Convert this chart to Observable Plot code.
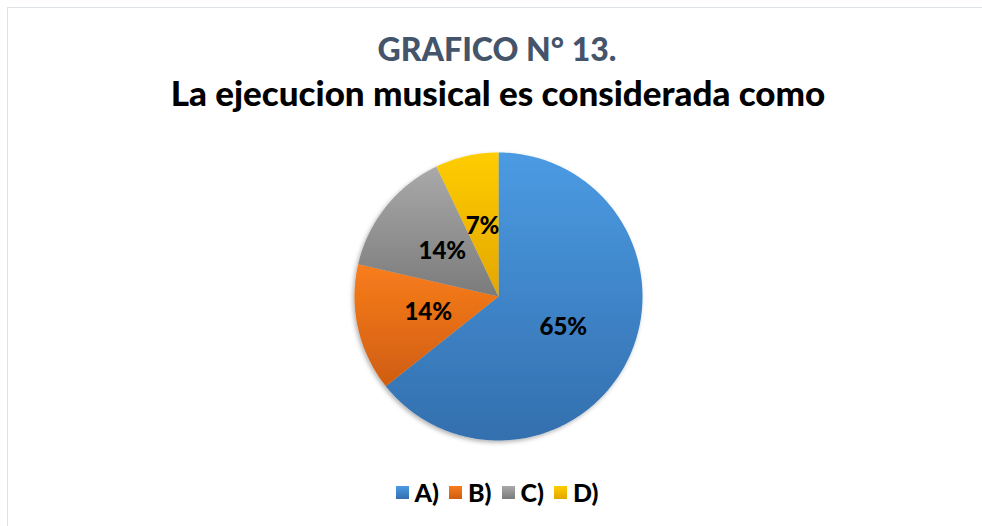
<!DOCTYPE html>
<html>
<head>
<meta charset="utf-8">
<script src="https://cdn.jsdelivr.net/npm/d3@7"></script>
<script src="https://cdn.jsdelivr.net/npm/@observablehq/plot@0.6"></script>
<style>
  html, body { margin: 0; padding: 0; background: #fff; }
  #wrap { position: relative; width: 982px; height: 526px; overflow: hidden; background: #fff; font-family: Lato, "Open Sans", sans-serif; }
  #frame { position: absolute; left: 7px; top: 7px; width: 1000px; height: 600px; border: 1.5px solid #dde2e8; box-sizing: border-box; }
  .t1 { position: absolute; left: 0; width: 994px; text-align: center; top: 29px; font-size: 32px; line-height: 40px; font-weight: 900; color: #44546a; }
  .t2 { position: absolute; left: 0; width: 996px; text-align: center; top: 72px; font-size: 35px; line-height: 40px; font-weight: 900; color: #000; }
  #chart { position: absolute; left: 348px; top: 146px; }
  #legend { position: absolute; left: 0; width: 994px; top: 477px; display: flex; justify-content: center; font-size: 25px; font-weight: 900; color: #000; line-height: 30px; }
  .item { display: flex; align-items: center; margin: 0 5px; }
  .sw { width: 13px; height: 13px; margin-right: 6px; }
</style>
</head>
<body>
<div id="wrap">
  <div id="frame"></div>
  <div class="t1" id="title1"></div>
  <div class="t2" id="title2"></div>
  <div id="chart"></div>
  <div id="legend"></div>
</div>
<script>
const title1 = "GRAFICO N° 13.";
const title2 = "La ejecucion musical es considerada como";
const categories = ["A)", "B)", "C)", "D)"];
const values = [64.3, 14.3, 14.3, 7.1];
const labels = ["65%", "14%", "14%", "7%"];
const topColors = ["#4b9be3", "#f97d1c", "#a9a9a9", "#ffcd00"];
const bottomColors = ["#336fae", "#cf5d10", "#7b7b7b", "#e3a600"];

document.getElementById("title1").textContent = title1;
document.getElementById("title2").textContent = title2;

const total = d3.sum(values);
const gradIds = categories.map((c, i) => "sliceGrad" + i);

// slice polygons from the data (start at 12 o'clock, clockwise)
const polyRows = [];
const labelRows = [];
let acc = 0;
categories.forEach((cat, i) => {
  const a0 = acc / total * 2 * Math.PI;
  acc += values[i];
  const a1 = acc / total * 2 * Math.PI;
  polyRows.push({cat, x: 0, y: 0});
  const n = Math.max(2, Math.ceil((a1 - a0) / (Math.PI / 180)));
  for (let k = 0; k <= n; k++) {
    const a = a0 + (a1 - a0) * k / n;
    polyRows.push({cat, x: Math.sin(a), y: Math.cos(a)});
  }
  const am = (a0 + a1) / 2;
  labelRows.push({cat, label: labels[i], x: 0.5 * Math.sin(am), y: 0.5 * Math.cos(am)});
});

const plot = Plot.plot({
  width: 300,
  height: 300,
  margin: 6,
  x: {domain: [-1, 1], axis: null},
  y: {domain: [-1, 1], axis: null},
  color: {type: "ordinal", domain: categories, range: gradIds.map(id => `url(#${id})`)},
  style: {background: "transparent", overflow: "visible"},
  marks: [
    Plot.line(polyRows, {x: "x", y: "y", z: "cat", fill: "cat", stroke: "none", curve: "linear-closed"}),
    Plot.text(labelRows, {x: "x", y: "y", text: "label", fill: "#000", fontSize: 24, fontWeight: 900, fontFamily: "Lato, 'Open Sans', sans-serif"})
  ]
});

// gradient + shadow definitions
const ns = "http://www.w3.org/2000/svg";
const defs = document.createElementNS(ns, "defs");
categories.forEach((c, i) => {
  const g = document.createElementNS(ns, "linearGradient");
  g.setAttribute("id", gradIds[i]);
  g.setAttribute("x1", "0"); g.setAttribute("y1", "0");
  g.setAttribute("x2", "0"); g.setAttribute("y2", "1");
  [[0, topColors[i]], [1, bottomColors[i]]].forEach(([o, col]) => {
    const s = document.createElementNS(ns, "stop");
    s.setAttribute("offset", o);
    s.setAttribute("stop-color", col);
    g.appendChild(s);
  });
  defs.appendChild(g);
});
const filt = document.createElementNS(ns, "filter");
filt.setAttribute("id", "pieShadow");
filt.setAttribute("x", "-10%"); filt.setAttribute("y", "-10%");
filt.setAttribute("width", "120%"); filt.setAttribute("height", "120%");
const ds = document.createElementNS(ns, "feDropShadow");
ds.setAttribute("dx", "-1.5"); ds.setAttribute("dy", "2");
ds.setAttribute("stdDeviation", "2");
ds.setAttribute("flood-color", "#000"); ds.setAttribute("flood-opacity", "0.3");
filt.appendChild(ds);
defs.appendChild(filt);
plot.insertBefore(defs, plot.firstChild);
const lineGroup = plot.querySelector("g[aria-label='line']");
if (lineGroup) lineGroup.setAttribute("filter", "url(#pieShadow)");

document.getElementById("chart").appendChild(plot);

// legend
const legend = document.getElementById("legend");
categories.forEach((c, i) => {
  const item = document.createElement("div");
  item.className = "item";
  const sw = document.createElement("div");
  sw.className = "sw";
  sw.style.background = `linear-gradient(${topColors[i]}, ${bottomColors[i]})`;
  const lab = document.createElement("span");
  lab.textContent = c;
  item.appendChild(sw);
  item.appendChild(lab);
  legend.appendChild(item);
});
</script>
</body>
</html>
